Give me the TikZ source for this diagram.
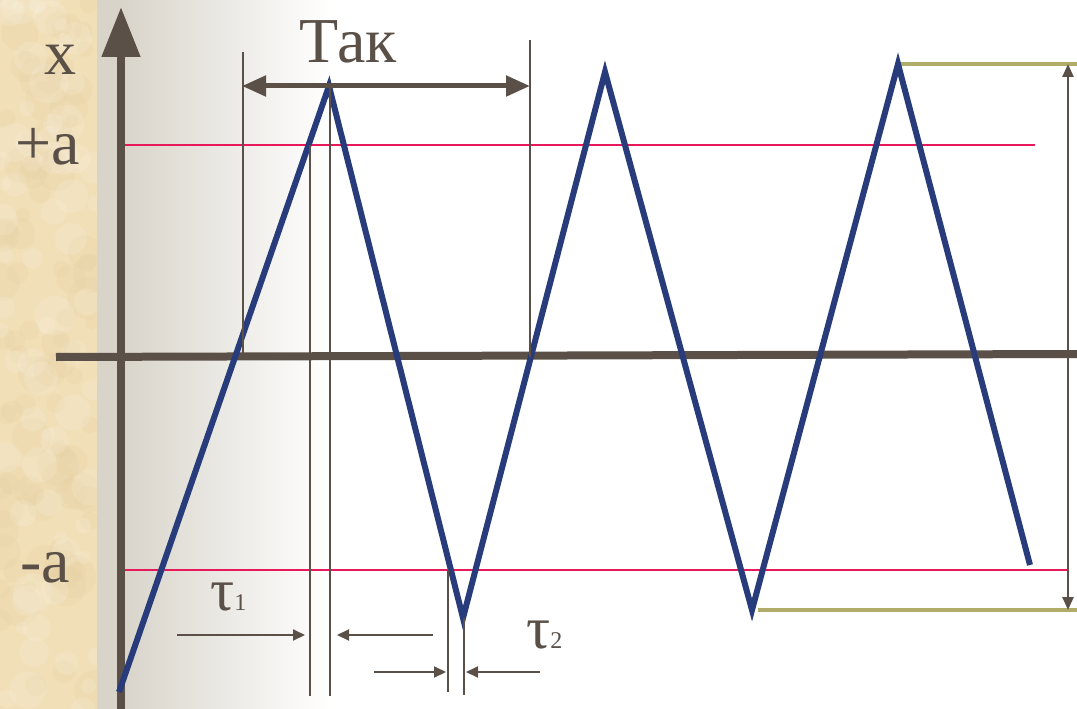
\documentclass[tikz,border=0pt]{standalone}
\usepackage{fontspec}
\setmainfont{Liberation Serif}
\usetikzlibrary{arrows.meta}
\definecolor{ink}{HTML}{5A5048}
\definecolor{wave}{HTML}{283C7C}
\definecolor{redline}{HTML}{E8185A}
\definecolor{olive}{HTML}{B0AD6A}
\definecolor{parch}{HTML}{F1DFB7}
\definecolor{parchdark}{HTML}{E4CE9F}
\definecolor{grayl}{HTML}{D8D4CA}
\begin{document}
\begin{tikzpicture}[x=1pt,y=-1pt,
  lbl/.style={text=ink,inner sep=0pt,font=\fontsize{64}{64}\selectfont},
  taulbl/.style={text=ink,inner sep=0pt,anchor=base west,font=\fontsize{60}{60}\selectfont},
  guide/.style={draw=ink,line width=2pt},
  dim/.style={draw=ink,line width=2pt,-{Triangle[length=12pt,width=11pt]}},
  ampl/.style={draw=olive,line width=4.5pt},
  level/.style={draw=redline,line width=2pt},
  wavestyle/.style={draw=wave,line width=6pt,line join=miter,miter limit=20}]
\useasboundingbox (0,0) rectangle (1077,709);
% background
\fill[white] (0,0) rectangle (1077,709);
\fill[parch] (0,0) rectangle (97,709);
\begin{scope}
\clip (0,0) rectangle (97,709);
\pgfmathsetseed{11}
\foreach \i in {1,...,90}{
  \pgfmathsetmacro\px{rnd*97}
  \pgfmathsetmacro\py{rnd*709}
  \pgfmathsetmacro\pr{6+rnd*16}
  \fill[parchdark,opacity=0.18] (\px,\py) circle (\pr);
}
\foreach \i in {1,...,70}{
  \pgfmathsetmacro\px{rnd*97}
  \pgfmathsetmacro\py{rnd*709}
  \pgfmathsetmacro\pr{6+rnd*14}
  \fill[white,opacity=0.12] (\px,\py) circle (\pr);
}
\end{scope}
\fill[grayl] (97,0) rectangle (121,709);
\shade[left color=grayl,right color=white] (121,0) rectangle (330,709);
% coordinates
\coordinate (w0) at (119,692);
\coordinate (w1) at (329,86);
\coordinate (w2) at (463,618);
\coordinate (w3) at (605,72);
\coordinate (w4) at (752,610);
\coordinate (w5) at (898,64);
\coordinate (w6) at (1030,565);
% level lines
\coordinate (pa0) at (121,145); \coordinate (pa1) at (1035,145);
\coordinate (ma0) at (121,570); \coordinate (ma1) at (1067,570);
\draw[level] (pa0) -- (pa1);
\draw[level] (ma0) -- (ma1);
% axes
\coordinate (ax0) at (56,357); \coordinate (ax1) at (1077,354);
\draw[ink,line width=8pt] (ax0) -- (ax1);
\coordinate (ay0) at (121,709); \coordinate (ay1) at (121,7);
\draw[ink,line width=8pt,-{Triangle[length=50pt,width=37pt]}] (ay0) -- (ay1);
% amplitude lines
\coordinate (ot0) at (898,64); \coordinate (ot1) at (1077,64);
\coordinate (ob0) at (758,610); \coordinate (ob1) at (1077,610);
\draw[ampl] (ot0) -- (ot1);
\draw[ampl] (ob0) -- (ob1);
\coordinate (da0) at (1068,64); \coordinate (da1) at (1068,610);
\draw[ink,line width=2.5pt,{Triangle[length=13pt,width=11pt]}-{Triangle[length=13pt,width=11pt]}] (da0) -- (da1);
% wave
\draw[wavestyle] (w0) -- (w1) -- (w2) -- (w3) -- (w4) -- (w5) -- (w6);
% guide lines
\coordinate (g1a) at (243,52);  \coordinate (g1b) at (243,357);
\coordinate (g2a) at (530,40);  \coordinate (g2b) at (530,357);
\coordinate (g3a) at (310,145); \coordinate (g3b) at (310,696);
\coordinate (g4a) at (330,88);  \coordinate (g4b) at (330,696);
\coordinate (g5a) at (448,570); \coordinate (g5b) at (448,692);
\coordinate (g6a) at (464,618); \coordinate (g6b) at (464,695);
\foreach \g in {1,...,6}{\draw[guide] (g\g a) -- (g\g b);}
% period arrow
\coordinate (ta0) at (242,86); \coordinate (ta1) at (530,86);
\draw[ink,line width=5pt,{Triangle[length=24pt,width=20pt]}-{Triangle[length=24pt,width=20pt]}] (ta0) -- (ta1);
% small dimension arrows
\coordinate (a1s) at (177,635); \coordinate (a1e) at (305,635);
\coordinate (a2s) at (433,635); \coordinate (a2e) at (337,635);
\coordinate (a3s) at (374,672); \coordinate (a3e) at (446,672);
\coordinate (a4s) at (540,672); \coordinate (a4e) at (466,672);
\draw[dim] (a1s) -- (a1e);
\draw[dim] (a2s) -- (a2e);
\draw[dim] (a3s) -- (a3e);
\draw[dim] (a4s) -- (a4e);
% labels
\node[lbl] (xl) at (60,60) {x};
\node[lbl] (pal) at (48,147) {+a};
\node[lbl] (mal) at (45,568) {-a};
\node[lbl] (tak) at (348,42) {Так};
\node[taulbl] (tau1) at (210,610) {τ{\fontsize{24}{24}\selectfont 1}};
\node[taulbl] (tau2) at (526,648) {τ{\fontsize{24}{24}\selectfont 2}};
\end{tikzpicture}
\end{document}
